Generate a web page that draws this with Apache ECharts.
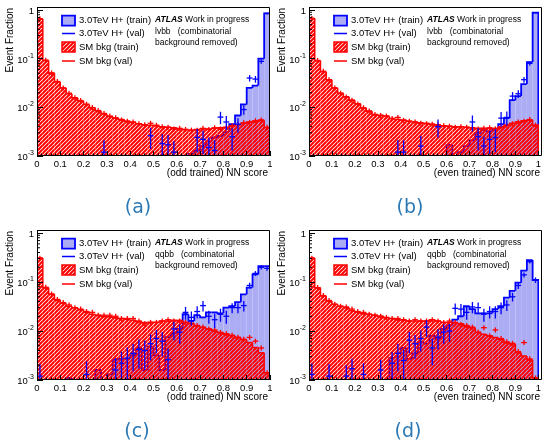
<!DOCTYPE html>
<html><head><meta charset="utf-8">
<script src="https://cdn.jsdelivr.net/npm/echarts@6/dist/echarts.min.js"></script>
<style>html,body{margin:0;padding:0;background:#fff}#c{width:544px;height:445px}</style>
</head><body><div id="c"></div>
<script>
// ---------------- DATA (40 bins of width 0.025 on the NN score) ----------------
const nBins = 40;
const binWidth = 0.025;
const xTicks = [0,0.1,0.2,0.3,0.4,0.5,0.6,0.7,0.8,0.9,1];
const xTickLabels = ['0','0.1','0.2','0.3','0.4','0.5','0.6','0.7','0.8','0.9','1'];
const yTickValues = [0.001,0.01,0.1,1];
const yTickExps = ['-3','-2','-1',''];
const yMinorTicks = [0.002,0.003,0.004,0.005,0.006,0.007,0.008,0.009,0.02,0.03,0.04,0.05,0.06,0.07,0.08,0.09,0.2,0.3,0.4,0.5,0.6,0.7,0.8,0.9];

// (a) lvbb, odd trained
const sigTrainA = [0,0,0,0,0,0,0,0,0,0, 0,0,0,0,0,0,0,0,0,0, 0,0,0,0,0,0,0.0011,0.0013,0.0016,0.002, 0.0024,0.0026,0.0031,0.0045,0.0068,0.0115,0.025,0.028,0.1,0.85];
const sigValA   = [0,0,0,0,0,0,0,0,0,0, 0,0.0012,0,0,0,0,0,0,0,0.0026, 0,0.0018,0.0017,0.0012,0,0,0,0.0024,0.0022,0.0015, 0.0013,0.0063,0.005,0.0025,0.0045,0.009,0.04,0.038,0.088,0.85];
const sigErrA   = [0,0,0,0,0,0,0,0,0,0, 0,0.0009,0,0,0,0,0,0,0,0.0012, 0,0.001,0.001,0.0008,0,0,0,0.0012,0.0011,0.0009, 0.0008,0.0018,0.0016,0.0012,0.0015,0.002,0.006,0.006,0.009,0.03];
const bkgTrainA = [0.65,0.092,0.05,0.033,0.025,0.019,0.0155,0.0135,0.0115,0.0098, 0.0085,0.0074,0.0065,0.006,0.0056,0.0052,0.0049,0.0046,0.0044,0.0043, 0.0042,0.004,0.0039,0.0038,0.0036,0.0035,0.0034,0.0035,0.0036,0.0036, 0.0037,0.0038,0.0039,0.0041,0.0044,0.0047,0.005,0.0052,0.0054,0.0038];
const bkgValA   = [0.66,0.093,0.051,0.034,0.025,0.0195,0.0158,0.0138,0.0116,0.0099, 0.0086,0.0075,0.0066,0.0061,0.0055,0.0052,0.005,0.0046,0.0044,0.0047, 0.0043,0.004,0.0039,0.0036,0.0037,0.0035,0.0034,0.0034,0.0037,0.0035, 0.0038,0.0036,0.0038,0.0042,0.0044,0.0048,0.0049,0.0053,0.0055,0.0039];

// (b) lvbb, even trained
const sigTrainB = [0,0,0,0,0,0,0,0,0,0, 0,0,0,0,0,0,0,0,0,0, 0,0,0,0,0.0017,0,0.0012,0.0016,0.0021,0.003, 0.0034,0.0032,0.0036,0.0045,0.006,0.014,0.017,0.03,0.085,0.88];
const sigValB   = [0,0,0,0,0,0,0,0,0,0, 0,0,0,0,0,0.0012,0.0012,0,0,0.0016, 0,0,0.004,0,0,0,0,0,0.005,0.0025, 0.0016,0.0022,0.0024,0.006,0.0062,0.017,0.019,0.037,0.08,0.88];
const sigErrB   = [0,0,0,0,0,0,0,0,0,0, 0,0,0,0,0,0.0009,0.0009,0,0,0.001, 0,0,0.0016,0,0,0,0,0,0.0018,0.0012, 0.0009,0.0011,0.0012,0.002,0.002,0.0035,0.0035,0.005,0.008,0.03];
const bkgTrainB = [0.67,0.091,0.054,0.037,0.025,0.0194,0.0165,0.014,0.0118,0.0097, 0.0083,0.0071,0.0069,0.0066,0.0059,0.0056,0.0055,0.0052,0.005,0.0048, 0.0047,0.0045,0.0043,0.0042,0.0041,0.004,0.004,0.0039,0.0038,0.0037, 0.0037,0.0037,0.0037,0.0039,0.0043,0.0047,0.005,0.0053,0.0055,0.0043];
const bkgValB   = [0.67,0.092,0.055,0.037,0.025,0.0195,0.0163,0.014,0.0117,0.0098, 0.0084,0.0071,0.0068,0.0066,0.0059,0.0062,0.0054,0.0052,0.005,0.0047, 0.0046,0.0045,0.0044,0.0042,0.0041,0.0039,0.004,0.0039,0.0038,0.0036, 0.0037,0.0038,0.0036,0.004,0.0043,0.0046,0.005,0.0052,0.0056,0.0043];

// (c) qqbb, odd trained
const sigTrainC = [0,0,0,0,0,0.0011,0,0,0,0, 0.0016,0,0.0013,0.0026,0.0027,0.0027,0.0032,0.0045,0.0016,0.0048, 0.0032,0.0016,0.0075,0.009,0.011,0.022,0.016,0.021,0.019,0.024, 0.024,0.023,0.03,0.032,0.039,0.056,0.077,0.143,0.21,0.21];
const sigValC   = [0.0012,0,0,0,0,0,0,0,0.0013,0, 0,0,0,0.0016,0.0022,0.0028,0.0035,0.0042,0.004,0.0055, 0.007,0.0062,0.0026,0.011,0.0095,0.024,0.019,0.025,0.033,0.02, 0.017,0.022,0.02,0.03,0.03,0.033,0.085,0.15,0.2,0.19];
const sigErrC   = [0.0009,0,0,0,0,0,0,0,0.0011,0, 0,0,0,0.0012,0.0016,0.0018,0.002,0.0025,0.0024,0.003, 0.0035,0.0032,0.0018,0.0045,0.004,0.007,0.006,0.007,0.008,0.006, 0.0055,0.0065,0.006,0.007,0.007,0.008,0.012,0.017,0.02,0.02];
const bkgTrainC = [0.31,0.076,0.056,0.043,0.037,0.032,0.03,0.027,0.024,0.022, 0.021,0.02,0.0195,0.0187,0.018,0.0173,0.0165,0.0155,0.015,0.015, 0.015,0.016,0.016,0.0165,0.0165,0.015,0.014,0.0126,0.0118,0.011, 0.01,0.0093,0.0086,0.008,0.0073,0.0066,0.0058,0.0046,0.0036,0.0014];
const bkgValC   = [0.305,0.078,0.057,0.044,0.038,0.034,0.03,0.028,0.025,0.024, 0.021,0.021,0.021,0.02,0.018,0.018,0.018,0.016,0.014,0.015, 0.015,0.016,0.017,0.016,0.016,0.015,0.0145,0.013,0.012,0.011, 0.0105,0.0093,0.0088,0.0082,0.0075,0.0068,0.0074,0.0062,0.0045,0.0014];

// (d) qqbb, even trained
const sigTrainD = [0,0,0,0,0,0,0,0,0,0, 0,0,0,0,0.0028,0.003,0.0045,0.0027,0.0035,0.006, 0.0055,0.008,0.007,0.011,0.013,0.017,0.02,0.032,0.028,0.023, 0.023,0.023,0.028,0.032,0.048,0.066,0.097,0.17,0.28,0.11];
const sigValD   = [0.0013,0,0,0.0012,0,0,0.0012,0.0017,0,0.0013, 0,0,0.0016,0,0.0022,0.0035,0.0025,0.0065,0.0055,0.007, 0.012,0.0045,0.0075,0.0095,0.01,0.029,0.028,0.024,0.031,0.03, 0.022,0.025,0.025,0.03,0.034,0.05,0.085,0.14,0.26,0.11];
const sigErrD   = [0.0009,0,0,0.0009,0,0,0.0008,0.001,0,0.0009, 0,0,0.001,0,0.0015,0.002,0.0017,0.003,0.0028,0.0032, 0.0045,0.0025,0.0033,0.004,0.004,0.0075,0.0075,0.007,0.008,0.008, 0.0065,0.007,0.007,0.008,0.0085,0.01,0.013,0.017,0.022,0.014];
const bkgTrainD = [0.31,0.076,0.052,0.041,0.035,0.032,0.03,0.026,0.024,0.023, 0.022,0.021,0.02,0.0187,0.018,0.017,0.0168,0.016,0.016,0.016, 0.016,0.017,0.016,0.015,0.015,0.0145,0.014,0.0126,0.0117,0.0093, 0.0086,0.008,0.0074,0.0068,0.0058,0.0054,0.0036,0.0031,0.0026,0.0011];
const bkgValD   = [0.305,0.077,0.053,0.042,0.035,0.032,0.031,0.028,0.025,0.024, 0.022,0.021,0.02,0.019,0.018,0.018,0.017,0.016,0.017,0.016, 0.016,0.017,0.016,0.015,0.016,0.015,0.0135,0.013,0.012,0.0095, 0.0117,0.008,0.0105,0.007,0.006,0.0056,0.0038,0.0058,0.0027,0.0011];

const legendLabels = ['3.0TeV H+ (train)','3.0TeV H+ (val)','SM bkg (train)','SM bkg (val)'];
const yTitle = 'Event Fraction';

// ---------------- STYLE / LAYOUT ----------------
const FONT = 'Liberation Sans, Arial, Helvetica, sans-serif';
const YMIN = 0.001, YMAX = 1.152, FLOOR = 1e-5;
const SIG_FILL = '#acacf4', SIG_LINE = '#0000ff', BKG_LINE = '#ff0000';
const PW = 233;

function makeHatch() {
  const c = document.createElement('canvas'); c.width = 4; c.height = 4;
  const g = c.getContext('2d');
  g.strokeStyle = '#ff0000'; g.lineWidth = 2.0; g.lineCap = 'square';
  g.beginPath();
  g.moveTo(-2, 6); g.lineTo(6, -2);
  g.moveTo(-2, 2); g.lineTo(2, -2);
  g.moveTo(2, 6); g.lineTo(6, 2);
  g.stroke();
  return c;
}
const HATCH = {image: makeHatch(), repeat: 'repeat'};

const panels = [
  {left: 37,  top: 7,   h: 149, st: sigTrainA, sv: sigValA, se: sigErrA, bt: bkgTrainA, bv: bkgValA, ch: 'lvbb', xt: '(odd trained) NN score',  cap: '(a)', cx: 138, cy: 208},
  {left: 309, top: 7,   h: 149, st: sigTrainB, sv: sigValB, se: sigErrB, bt: bkgTrainB, bv: bkgValB, ch: 'lvbb', xt: '(even trained) NN score', cap: '(b)', cx: 410, cy: 208},
  {left: 37,  top: 230, h: 150, st: sigTrainC, sv: sigValC, se: sigErrC, bt: bkgTrainC, bv: bkgValC, ch: 'qqbb', xt: '(odd trained) NN score',  cap: '(c)', cx: 137, cy: 432},
  {left: 309, top: 230, h: 150, st: sigTrainD, sv: sigValD, se: sigErrD, bt: bkgTrainD, bv: bkgValD, ch: 'qqbb', xt: '(even trained) NN score', cap: '(d)', cx: 408, cy: 432}
];

function histSeries(idx, vals, fill, stroke, lw, z) {
  const data = vals.map((v, i) => [i * binWidth, (i + 1) * binWidth,
    v > 0 ? v : FLOOR, (i > 0 && vals[i - 1] > 0) ? vals[i - 1] : FLOOR,
    v > 0 ? 1 : 0, i === vals.length - 1 ? 1 : 0]);
  return {
    type: 'custom', xAxisIndex: idx, yAxisIndex: idx, z: z, clip: true, silent: true,
    encode: {x: [0, 1], y: 2}, data: data,
    renderItem: function (params, api) {
      const x0 = api.value(0), x1 = api.value(1), v = api.value(2), vp = api.value(3);
      const pos = api.value(4), last = api.value(5);
      const a = api.coord([x0, vp]), b = api.coord([x0, v]), c = api.coord([x1, v]);
      const base = api.coord([x0, YMIN])[1];
      const children = [];
      if (pos) children.push({type: 'rect', shape: {x: b[0], y: b[1], width: c[0] - b[0], height: base - b[1]}, style: {fill: fill, stroke: null}});
      const pts = [a, b, c];
      if (last) pts.push(api.coord([x1, FLOOR]));
      children.push({type: 'polyline', shape: {points: pts}, style: {stroke: stroke, lineWidth: lw, fill: null}});
      return {type: 'group', children: children};
    }
  };
}

function valSeries(idx, vals, errs, color, lw, z) {
  const data = [];
  vals.forEach((v, i) => { if (v > 0) data.push([(i + 0.5) * binWidth, v, errs ? errs[i] : 0]); });
  return {
    type: 'custom', xAxisIndex: idx, yAxisIndex: idx, z: z, clip: true, silent: true,
    encode: {x: 0, y: 1}, data: data,
    renderItem: function (params, api) {
      const xc = api.value(0), v = api.value(1), e = api.value(2);
      const l = api.coord([xc - binWidth / 2, v]), r = api.coord([xc + binWidth / 2, v]);
      const p = api.coord([xc, v]);
      let yT, yB;
      if (errs) { yT = api.coord([xc, v + e])[1]; yB = api.coord([xc, Math.max(v - e, FLOOR)])[1]; }
      else { yT = p[1] - 2.5; yB = p[1] + 2.5; }
      return {type: 'group', children: [
        {type: 'line', shape: {x1: l[0], y1: l[1], x2: r[0], y2: r[1]}, style: {stroke: color, lineWidth: lw}},
        {type: 'line', shape: {x1: p[0], y1: yT, x2: p[0], y2: yB}, style: {stroke: color, lineWidth: lw}}
      ]};
    }
  };
}

function minorTickSeries(idx) {
  return {
    type: 'custom', xAxisIndex: idx, yAxisIndex: idx, z: 20, silent: true,
    encode: {x: 0, y: 1}, data: yMinorTicks.map(v => [0, v]),
    renderItem: function (params, api) {
      const p = api.coord([0, api.value(1)]);
      return {type: 'line', shape: {x1: p[0], y1: p[1], x2: p[0] + 3, y2: p[1]}, style: {stroke: '#000', lineWidth: 1}};
    }
  };
}

function xFmt(v) {
  for (let i = 0; i < xTicks.length; i++) if (Math.abs(xTicks[i] - v) < 1e-6) return xTickLabels[i];
  return '';
}
function yFmt(v) {
  for (let i = 0; i < yTickValues.length; i++) {
    if (Math.abs(Math.log10(v) - Math.log10(yTickValues[i])) < 1e-6) {
      return yTickExps[i] === '' ? '{b|1}' : '{b|10}{s|' + yTickExps[i] + '}';
    }
  }
  return '';
}

const grids = [], xAxes = [], yAxes = [], series = [], gfx = [];
panels.forEach((P, k) => {
  grids.push({left: P.left, top: P.top, width: PW, height: P.h, containLabel: false});
  xAxes.push({
    gridIndex: k, type: 'value', min: 0, max: 1, interval: 0.1, z: 10,
    axisLine: {show: false},
    axisTick: {show: true, inside: true, length: 5, lineStyle: {color: '#000', width: 1}},
    minorTick: {show: true, splitNumber: 5, length: 2.5, lineStyle: {color: '#000', width: 1}},
    splitLine: {show: false}, minorSplitLine: {show: false},
    axisLabel: {margin: 3, fontSize: 9.5, color: '#000', fontFamily: FONT, formatter: xFmt, showMinLabel: true, showMaxLabel: true}
  });
  yAxes.push({
    gridIndex: k, type: 'log', logBase: 10, min: YMIN, max: YMAX, z: 10,
    axisLine: {show: false},
    axisTick: {show: true, inside: true, length: 6, lineStyle: {color: '#000', width: 1}},
    splitLine: {show: false},
    axisLabel: {margin: 3, color: '#000', fontFamily: FONT, formatter: yFmt,
      rich: {b: {fontSize: 9.5, fontFamily: FONT, color: '#000', lineHeight: 13, verticalAlign: 'bottom'},
             s: {fontSize: 7, fontFamily: FONT, color: '#000', lineHeight: 13, verticalAlign: 'top'}}}
  });
  series.push(histSeries(k, P.st, SIG_FILL, SIG_LINE, 1.8, 2));
  series.push(histSeries(k, P.bt, HATCH, BKG_LINE, 1.5, 3));
  series.push(valSeries(k, P.sv, P.se, SIG_LINE, 1.3, 5));
  series.push(valSeries(k, P.bv, null, BKG_LINE, 1.3, 4));
  series.push(minorTickSeries(k));

  const L = P.left, T = P.top, B = P.top + P.h;
  // frame
  gfx.push({type: 'rect', z: 100, shape: {x: L + 0.5, y: T + 0.5, width: PW - 1, height: P.h - 1}, style: {fill: null, stroke: '#000', lineWidth: 1}});
  // axis titles
  gfx.push({type: 'text', z: 100, x: L - 27, y: T + 1, rotation: Math.PI / 2,
    style: {text: yTitle, fontSize: 10, fontFamily: FONT, fill: '#000', align: 'right', verticalAlign: 'middle'}});
  gfx.push({type: 'text', z: 100, x: L + PW - 2, y: B + 17.5,
    style: {text: P.xt, fontSize: 10, fontFamily: FONT, fill: '#000', align: 'right', verticalAlign: 'middle'}});
  // legend
  const rows = [T + 13.7, T + 26.5, T + 40, T + 54];
  gfx.push({type: 'rect', z: 100, shape: {x: L + 25, y: rows[0] - 5, width: 13, height: 10}, style: {fill: SIG_FILL, stroke: SIG_LINE, lineWidth: 1.8}});
  gfx.push({type: 'line', z: 100, shape: {x1: L + 25, y1: rows[1], x2: L + 38, y2: rows[1]}, style: {stroke: SIG_LINE, lineWidth: 1.5}});
  gfx.push({type: 'rect', z: 100, shape: {x: L + 25, y: rows[2] - 5, width: 13, height: 10}, style: {fill: HATCH, stroke: BKG_LINE, lineWidth: 1.5}});
  gfx.push({type: 'line', z: 100, shape: {x1: L + 25, y1: rows[3], x2: L + 38, y2: rows[3]}, style: {stroke: BKG_LINE, lineWidth: 1.5}});
  legendLabels.forEach((t, i) => gfx.push({type: 'text', z: 100, x: L + 42, y: rows[i],
    style: {text: t, fontSize: 9.5, fontFamily: FONT, fill: '#000', align: 'left', verticalAlign: 'middle'}}));
  // ATLAS label
  gfx.push({type: 'text', z: 100, x: L + 118, y: T + 13,
    style: {text: '{a|ATLAS} Work in progress', fontSize: 8.5, fontFamily: FONT, fill: '#000', align: 'left', verticalAlign: 'middle',
      rich: {a: {fontSize: 8.5, fontFamily: FONT, fontWeight: 'bold', fontStyle: 'italic', fill: '#000'}}}});
  gfx.push({type: 'text', z: 100, x: L + 118, y: T + 24.5,
    style: {text: P.ch + '   (combinatorial', fontSize: 8.5, fontFamily: FONT, fill: '#000', align: 'left', verticalAlign: 'middle'}});
  gfx.push({type: 'text', z: 100, x: L + 118, y: T + 36,
    style: {text: 'background removed)', fontSize: 8.5, fontFamily: FONT, fill: '#000', align: 'left', verticalAlign: 'middle'}});
  // caption
  gfx.push({type: 'text', z: 100, x: P.cx, y: P.cy,
    style: {text: P.cap, fontSize: 19, fontFamily: 'DejaVu Sans', fill: '#2a78b4', align: 'center', verticalAlign: 'middle'}});
});

const chart = echarts.init(document.getElementById('c'), null, {renderer: 'canvas'});
chart.setOption({
  animation: false,
  backgroundColor: '#ffffff',
  grid: grids, xAxis: xAxes, yAxis: yAxes, series: series,
  graphic: {elements: gfx}
});
</script>
</body></html>
